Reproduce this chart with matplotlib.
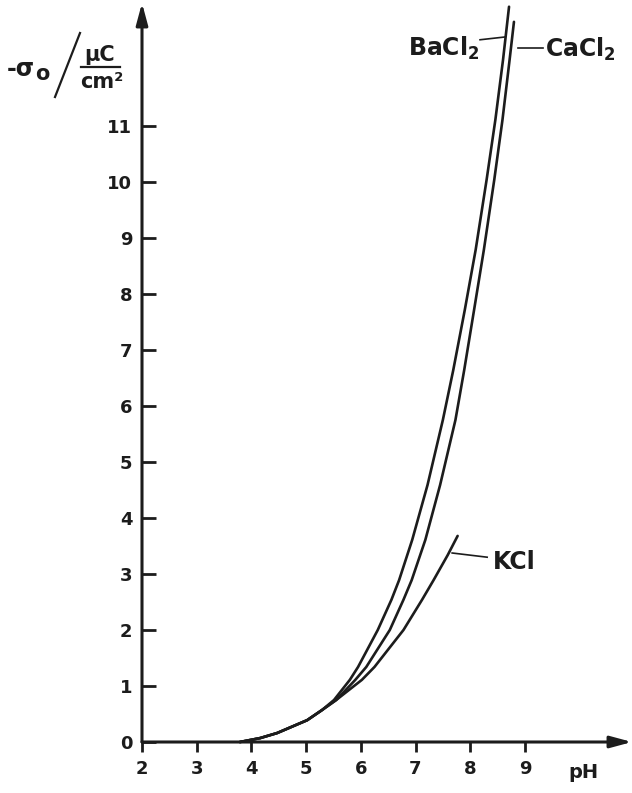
import matplotlib
matplotlib.use("Agg")
import matplotlib.pyplot as plt
from matplotlib.lines import Line2D

plt.rcParams['font.family'] = ['DejaVu Sans']
plt.rcParams['mathtext.fontset'] = 'dejavusans'

# ---- data ----
ph_bacl2 = [3.79, 4.16, 4.47, 5.02, 5.29, 5.51, 5.80, 5.95, 6.31, 6.56, 6.70, 6.94,
            7.22, 7.50, 7.69, 7.90, 8.10, 8.30, 8.46, 8.60, 8.71]
s_bacl2 = [0.00, 0.07, 0.16, 0.39, 0.57, 0.75, 1.11, 1.34, 2.00, 2.54, 2.89, 3.61,
           4.59, 5.75, 6.64, 7.71, 8.79, 10.04, 11.11, 12.18, 13.13]

ph_cacl2 = [3.79, 4.16, 4.47, 5.02, 5.29, 5.55, 5.90, 6.10, 6.53, 6.78, 6.93, 7.18,
            7.45, 7.73, 7.89, 8.07, 8.25, 8.44, 8.59, 8.72, 8.80]
s_cacl2 = [0.00, 0.07, 0.16, 0.39, 0.57, 0.75, 1.11, 1.34, 2.00, 2.54, 2.89, 3.61,
           4.59, 5.75, 6.64, 7.71, 8.79, 10.04, 11.11, 12.18, 12.86]

ph_kcl = [3.79, 4.16, 4.47, 5.02, 5.29, 5.55, 6.02, 6.25, 6.78, 7.12, 7.33, 7.59, 7.77]
s_kcl = [0.00, 0.07, 0.16, 0.39, 0.57, 0.75, 1.11, 1.34, 2.00, 2.54, 2.89, 3.34, 3.68]

x_ticks = [2, 3, 4, 5, 6, 7, 8, 9]
y_ticks = [0, 1, 2, 3, 4, 5, 6, 7, 8, 9, 10, 11]

W, H = 632, 793
fig = plt.figure(figsize=(W / 100, H / 100), dpi=100)
fig.patch.set_facecolor('white')

ax = fig.add_axes([142 / W, (H - 742) / H, (W - 142) / W, (742 - 3) / H])
ax.set_xlim(2, 2 + 490 / 54.7)
ax.set_ylim(0, 739 / 56)
for sp in ax.spines.values():
    sp.set_visible(False)
ax.patch.set_alpha(0)

ink = '#1c1c1c'
kw = dict(color=ink, lw=1.9, solid_capstyle='round', solid_joinstyle='round', clip_on=False)
ax.plot(ph_bacl2, s_bacl2, **kw)
ax.plot(ph_cacl2, s_cacl2, **kw)
ax.plot(ph_kcl, s_kcl, **kw)

# axes with arrows
ap = dict(arrowstyle='-|>,head_length=1.3,head_width=0.35', lw=2.2, color=ink,
          shrinkA=0, shrinkB=0)
ax.annotate('', xy=(1, 0), xytext=(0, 0), xycoords='axes fraction', arrowprops=ap,
            annotation_clip=False)
ax.annotate('', xy=(0, 1), xytext=(0, 0), xycoords='axes fraction', arrowprops=ap,
            annotation_clip=False)

ax.set_xticks(x_ticks)
ax.set_xticklabels([str(v) for v in x_ticks])
ax.set_yticks(y_ticks)
ax.set_yticklabels([str(v) for v in y_ticks])
ax.tick_params(axis='x', direction='out', length=7, width=2, color=ink, pad=6,
               labelsize=13, labelcolor=ink)
ax.tick_params(axis='y', direction='in', length=10, width=2, color=ink, pad=7,
               labelsize=13, labelcolor=ink)
for lab in ax.get_xticklabels() + ax.get_yticklabels():
    lab.set_fontweight('bold')

tkw = dict(fontsize=17, fontweight='bold', color=ink, va='center', ha='left')
ax.text(6.86, 12.39, r'$\mathbf{BaCl_2}$', **tkw)
ax.text(9.37, 12.36, r'$\mathbf{CaCl_2}$', **tkw)
ax.text(8.42, 3.21, 'KCl', **tkw)
ax.text(9.79, -0.54, 'pH', fontsize=14, fontweight='bold', color=ink,
        va='center', ha='left', clip_on=False)

# leader lines
lkw = dict(color=ink, lw=1.2, clip_on=False)
ax.plot([8.18, 8.64], [12.54, 12.59], **lkw)
ax.plot([8.87, 9.33], [12.39, 12.39], **lkw)
ax.plot([7.67, 8.31], [3.375, 3.30], **lkw)

# y-axis label:  -sigma_0 / (uC / cm^2)
def fx(px):
    return px / W

def fy(py):
    return 1 - py / H

fig.text(fx(7), fy(69), '-σ', fontsize=17, fontweight='bold', color=ink,
         ha='left', va='center')
fig.text(fx(35), fy(74), 'o', fontsize=15, fontweight='bold', color=ink,
         ha='left', va='center')
fig.add_artist(Line2D([fx(55), fx(80)], [fy(97), fy(33)], color=ink, lw=1.6))
fig.text(fx(100), fy(55), 'μC', fontsize=15, fontweight='bold', color=ink,
         ha='center', va='center')
fig.add_artist(Line2D([fx(81), fx(120)], [fy(67), fy(67)], color=ink, lw=1.6))
fig.text(fx(102), fy(82), 'cm²', fontsize=15, fontweight='bold', color=ink,
         ha='center', va='center')

fig.savefig('out.png', dpi=100, facecolor='white')
